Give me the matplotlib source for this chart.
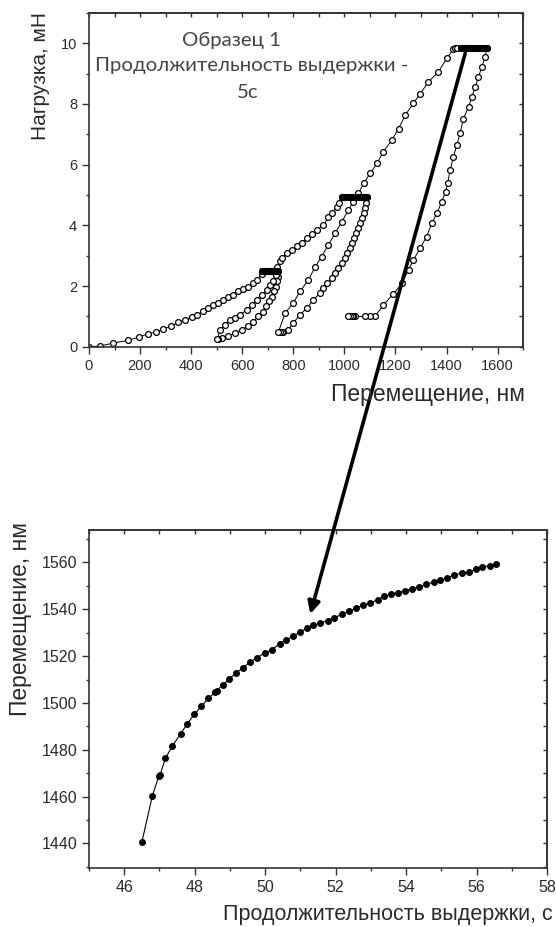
import matplotlib
matplotlib.use('Agg')
import matplotlib.pyplot as plt
from matplotlib.ticker import MultipleLocator

plt.rcParams['font.family'] = ['Liberation Sans', 'DejaVu Sans']

# Верхний график: нагрузка от перемещения (три цикла нагрузки)
# нагрузка до 2.5 мН
load1_x = [0, 43, 95, 154, 197, 232, 262, 291, 320, 350, 376, 402, 422, 448, 467,
           487, 506, 526, 546, 565, 585, 604, 624, 643, 659, 676]
load1_y = [0, 0.02, 0.12, 0.21, 0.32, 0.43, 0.48, 0.59, 0.67, 0.80, 0.89, 0.98,
           1.05, 1.18, 1.27, 1.38, 1.44, 1.55, 1.63, 1.71, 1.82, 1.90, 1.98,
           2.09, 2.20, 2.40]
hold1_x = [676, 683, 690, 697, 700, 704, 708, 711, 715, 718, 722, 725, 729, 732,
           735, 738, 742]
hold1_y = [2.48] * len(hold1_x)
# разгрузка и повторная нагрузка до 5 мН
cyc2_x = [742, 737, 732, 725, 715, 706, 693, 680, 663, 644, 624, 598, 572, 546,
          520, 507, 503,
          513, 533, 552, 572, 591, 618, 637, 657, 676, 696, 709, 722, 732, 738,
          747, 755, 774, 794, 813, 833, 853, 872, 892, 918, 937, 950, 970, 980]
cyc2_y = [2.31, 2.15, 1.98, 1.82, 1.65, 1.49, 1.33, 1.16, 1.00, 0.83, 0.69, 0.56,
          0.45, 0.36, 0.28, 0.25, 0.25,
          0.56, 0.72, 0.87, 0.94, 1.05, 1.22, 1.38, 1.55, 1.71, 1.88, 2.04, 2.15,
          2.37, 2.62, 2.81, 2.92, 3.08, 3.19, 3.32, 3.43, 3.57, 3.72, 3.85, 4.01,
          4.27, 4.40, 4.60, 4.75]
hold2_x = [990, 996, 1002, 1008, 1014, 1020, 1026, 1032, 1038, 1044, 1050, 1056,
           1062, 1068, 1074, 1080, 1084, 1088]
hold2_y = [4.94] * len(hold2_x)
# разгрузка и повторная нагрузка до 10 мН
cyc3_x = [1085, 1081, 1075, 1068, 1062, 1055, 1046, 1038, 1029, 1020, 1012, 1003,
          990, 976, 964, 950, 933, 918, 905, 879, 853, 826, 800, 781, 761, 754,
          748, 742,
          768, 800, 826, 859, 885, 911, 937, 964, 990, 1016, 1035, 1055, 1075,
          1101, 1127, 1153, 1186, 1212, 1238, 1270, 1297, 1329, 1368, 1401, 1427,
          1434, 1441]
cyc3_y = [4.73, 4.56, 4.40, 4.23, 4.07, 3.90, 3.74, 3.58, 3.41, 3.25, 3.08, 2.92,
          2.75, 2.59, 2.42, 2.26, 2.09, 1.93, 1.77, 1.55, 1.27, 1.05, 0.78, 0.56,
          0.50, 0.49, 0.49, 0.49,
          1.11, 1.44, 1.82, 2.20, 2.62, 2.97, 3.36, 3.74, 4.12, 4.51, 4.78, 5.05,
          5.38, 5.71, 6.04, 6.43, 6.81, 7.19, 7.63, 8.02, 8.34, 8.73, 9.06, 9.50,
          9.82, 9.85, 9.85]
hold3_x = [1455, 1461, 1467, 1473, 1479, 1485, 1491, 1497, 1503, 1509, 1515,
           1521, 1527, 1533, 1539, 1545, 1551, 1558]
hold3_y = [9.85] * len(hold3_x)
# окончательная разгрузка
unload_x = [1551, 1538, 1525, 1512, 1499, 1486, 1466, 1453, 1440, 1427, 1414,
            1404, 1396, 1381, 1362, 1342, 1322, 1297, 1270, 1251, 1225, 1192,
            1153, 1120, 1101, 1081, 1042, 1035, 1028, 1022, 1015]
unload_y = [9.55, 9.22, 8.89, 8.56, 8.23, 7.90, 7.52, 7.03, 6.64, 6.26, 5.82,
            5.38, 5.10, 4.78, 4.40, 4.07, 3.63, 3.25, 2.86, 2.53, 2.09, 1.74,
            1.38, 1.00, 1.00, 1.00, 1.00, 1.00, 1.00, 1.00, 1.00]

disp_nm = load1_x + hold1_x + cyc2_x + hold2_x + cyc3_x + hold3_x + unload_x
load_mN = load1_y + hold1_y + cyc2_y + hold2_y + cyc3_y + hold3_y + unload_y

# Нижний график: перемещение во время выдержки
hold_time_s = [
    46.5, 46.8, 46.98, 47.02, 47.17, 47.37, 47.6, 47.79, 47.99, 48.19, 48.39,
    48.58, 48.62, 48.79, 48.98, 49.16, 49.37, 49.57, 49.76, 50.0, 50.2, 50.41,
    50.6, 50.79, 50.98, 51.18, 51.37, 51.56, 51.77, 51.96, 52.18, 52.37, 52.59,
    52.79, 52.98, 53.19, 53.38, 53.57, 53.76, 53.98, 54.17, 54.36, 54.57, 54.78,
    54.97, 55.16, 55.37, 55.59, 55.78, 55.97, 56.16, 56.37, 56.56,
]
hold_disp_nm = [
    1440.5, 1460.4, 1468.6, 1469.4, 1476.4, 1481.7, 1486.8, 1491.1, 1495.2,
    1498.6, 1502.0, 1504.5, 1505.3, 1507.5, 1510.3, 1512.6, 1515.1, 1517.4,
    1519.3, 1521.5, 1522.8, 1525.3, 1526.9, 1528.6, 1530.1, 1531.9, 1533.1,
    1534.1, 1535.2, 1536.4, 1537.8, 1539.2, 1540.5, 1541.9, 1542.6, 1544.1,
    1545.5, 1546.6, 1547.0, 1548.0, 1548.7, 1549.4, 1550.6, 1551.6, 1552.3,
    1553.4, 1554.7, 1555.4, 1555.8, 1557.0, 1558.0, 1558.7, 1559.4,
]

text_col = '#2a2a2a'
spine_col = '#333333'

fig = plt.figure(figsize=(5.56, 9.27), dpi=100)
ax1 = fig.add_axes([0.160, 0.626, 0.781, 0.360])
ax2 = fig.add_axes([0.160, 0.0636, 0.824, 0.365])

ax1.plot(disp_nm, load_mN, color='black', lw=0.7, marker='o', ms=4.2,
         mfc='white', mec='black', mew=0.9)
# выдержки - сплошные из-за плотных точек
for hx, hy in [(hold1_x, hold1_y), (hold2_x, hold2_y), (hold3_x, hold3_y)]:
    ax1.plot(hx, hy, color='black', lw=0.7, marker='o', ms=4.2,
             mfc='black', mec='black', mew=0.9)
ax1.set_xlim(0, 1700)
ax1.set_ylim(0, 11)
ax1.xaxis.set_major_locator(MultipleLocator(200))
ax1.xaxis.set_minor_locator(MultipleLocator(100))
ax1.yaxis.set_major_locator(MultipleLocator(2))
ax1.yaxis.set_minor_locator(MultipleLocator(1))

ax2.plot(hold_time_s, hold_disp_nm, color='black', lw=0.8, marker='o', ms=4,
         mfc='black', mec='black')
ax2.set_xlim(45, 58)
ax2.set_ylim(1429.5, 1574)
ax2.xaxis.set_major_locator(MultipleLocator(2))
ax2.xaxis.set_minor_locator(MultipleLocator(1))
ax2.yaxis.set_major_locator(MultipleLocator(20))
ax2.yaxis.set_minor_locator(MultipleLocator(10))

for ax, fs, xl, yl in [(ax1, 10.5, (200, 100), (2, 1)), (ax2, 11.5, (1, 1), (10, 10))]:
    for s in ax.spines.values():
        s.set_color(spine_col)
        s.set_linewidth(1.2)
    ax.tick_params(which='major', direction='out', length=5, width=1,
                   color=spine_col, labelsize=fs, labelcolor=text_col)
    ax.tick_params(which='minor', direction='out', length=2.5, width=1,
                   color=spine_col)
    # зеркальные риски внутрь сверху и справа
    top = ax.secondary_xaxis('top')
    top.xaxis.set_major_locator(MultipleLocator(xl[0]))
    top.xaxis.set_minor_locator(MultipleLocator(xl[1]))
    top.tick_params(which='both', direction='in', length=3, width=1,
                    color=spine_col, labeltop=False)
    top.spines['top'].set_color(spine_col)
    top.spines['top'].set_linewidth(1.2)
    right = ax.secondary_yaxis('right')
    right.yaxis.set_major_locator(MultipleLocator(yl[0]))
    right.yaxis.set_minor_locator(MultipleLocator(yl[1]))
    right.tick_params(which='both', direction='in', length=3, width=1,
                      color=spine_col, labelright=False)
    right.spines['right'].set_color(spine_col)
    right.spines['right'].set_linewidth(1.2)

# подписи осей
fig.text(0.072, 0.987, 'Нагрузка, мН', rotation=90, ha='center', va='top',
         fontsize=15, color=text_col)
fig.text(0.944, 0.574, 'Перемещение, нм', ha='right', va='center',
         fontsize=16.5, color=text_col)
fig.text(0.036, 0.437, 'Перемещение, нм', rotation=90, ha='center', va='top',
         fontsize=16.5, color=text_col)
fig.text(0.995, 0.013, 'Продолжительность выдержки, с', ha='right',
         va='center', fontsize=15.5, color=text_col)

# надпись на верхнем графике
note_font = ['Lato', 'DejaVu Sans']
fig.text(232 / 556, 1 - 40 / 927, 'Образец 1', ha='center', va='center',
         fontsize=14.7, color='#444444', family=note_font)
fig.text(252 / 556, 1 - 66 / 927, 'Продолжительность выдержки -', ha='center',
         va='center', fontsize=14.7, color='#444444', family=note_font)
fig.text(248 / 556, 1 - 92 / 927, '5с', ha='center', va='center',
         fontsize=14.7, color='#444444', family=note_font)

# стрелка от выдержки к нижнему графику
ax2.annotate('', xy=(51.28, 1538), xycoords='data',
             xytext=(1473, 9.67), textcoords=ax1.transData,
             arrowprops=dict(arrowstyle='-|>', lw=2.6, color='black',
                             mutation_scale=18, shrinkA=0, shrinkB=0),
             annotation_clip=False)

fig.savefig('out.png', dpi=100)
